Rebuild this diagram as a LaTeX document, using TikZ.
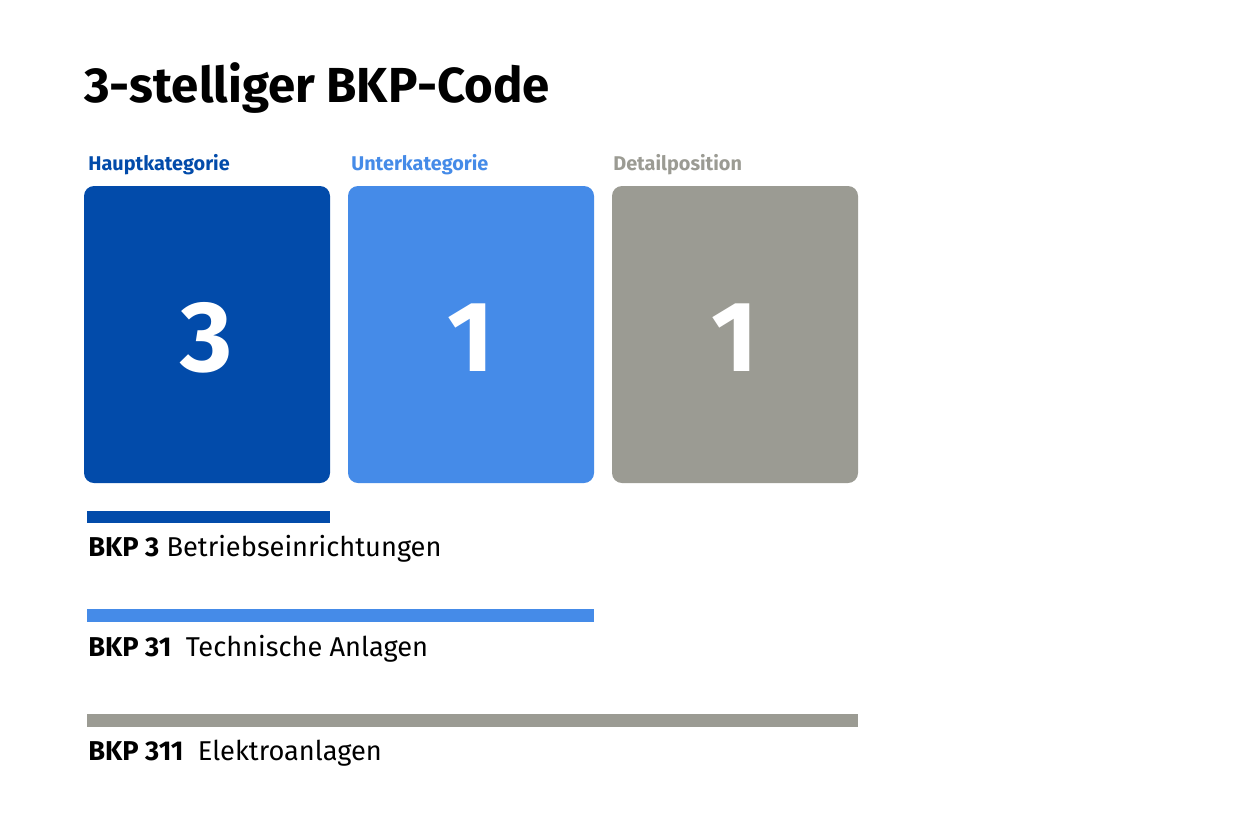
\documentclass[tikz,border=0pt]{standalone}
\usepackage{fontspec}
\setmainfont{Fira Sans}
\definecolor{cdark}{HTML}{024BAA}
\definecolor{clight}{HTML}{458BE8}
\definecolor{cgray}{HTML}{9B9B93}
\begin{document}
\begin{tikzpicture}[x=0.02cm,y=-0.02cm,
  box/.style={rounded corners=0.2cm},
  num/.style={text=white,font=\fontsize{57}{60}\selectfont\bfseries},
  lab/.style={anchor=west,inner sep=0,font=\fontsize{11.3}{13}\selectfont\bfseries},
  line/.style={anchor=west,inner sep=0,font=\fontsize{15.5}{18}\selectfont}]
\useasboundingbox[fill=white] (0,0) rectangle (1250,833);
\node[anchor=west,inner sep=0,font=\fontsize{28}{32}\selectfont\bfseries] (title) at (84,88) {3-stelliger BKP-Code};
\node[lab,text=cdark] (l1) at (88,165) {Hauptkategorie};
\node[lab,text=clight] (l2) at (351,165) {Unterkategorie};
\node[lab,text=cgray] (l3) at (613,165) {Detailposition};
\fill[box,cdark] (84,186) rectangle (330,483);
\fill[box,clight] (348,186) rectangle (594,483);
\fill[box,cgray] (612,186) rectangle (858,483);
\node[num] (n1) at (207,338) {3};
\node[num] (n2) at (471,338) {1};
\node[num] (n3) at (735,338) {1};
\fill[cdark] (87,511) rectangle (330,523);
\fill[clight] (87,609) rectangle (594,622);
\fill[cgray] (87,714) rectangle (858,727);
\node[line] (t1) at (88,549) {\textbf{BKP 3} Betriebseinrichtungen};
\node[line] (t2) at (88,649) {\textbf{BKP 31}\ \ Technische Anlagen};
\node[line] (t3) at (88,753) {\textbf{BKP 311}\ \ Elektroanlagen};
\end{tikzpicture}
\end{document}
